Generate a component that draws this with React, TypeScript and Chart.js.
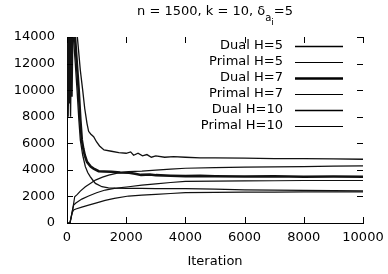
import { useEffect, useRef } from "react";
import { Chart, registerables } from "chart.js";

Chart.register(...registerables);

const titleMain = "n = 1500, k = 10, δ";
const titleSub = "a";
const titleSubSub = "i";
const titleTail = "=5";
const xAxisTitle = "Iteration";

const xTicks = [0, 2000, 4000, 6000, 8000, 10000];
const yTicks = [0, 2000, 4000, 6000, 8000, 10000, 12000, 14000];

const seriesLabels = ["Dual H=5", "Primal H=5", "Dual H=7", "Primal H=7", "Dual H=10", "Primal H=10"];
const seriesWidths = [1.3, 1.2, 2.6, 1.2, 1.3, 1.2];

const dualH5Iter = [0, 350, 450, 530, 600, 675, 730, 800, 900, 1000, 1100, 1250, 1500, 1750, 2000, 2150, 2250, 2400, 2550, 2700, 2850, 3000, 3300, 3600, 4000, 4500, 5000, 6000, 7000, 8000, 9000, 10000];
const dualH5Val = [17000, 14000, 11500, 10000, 8600, 7500, 6900, 6700, 6500, 6100, 5800, 5500, 5400, 5300, 5250, 5350, 5100, 5250, 5050, 5150, 4950, 5050, 4950, 5000, 4950, 4900, 4900, 4880, 4850, 4850, 4820, 4800];

const primalH5Iter = [0, 100, 180, 220, 260, 350, 450, 620, 800, 960, 1200, 1410, 1700, 2080, 2530, 3000, 3500, 4000, 5000, 6000, 7000, 8000, 9000, 10000];
const primalH5Val = [0, 0, 900, 1400, 1980, 2150, 2400, 2730, 3000, 3230, 3450, 3600, 3750, 3860, 3900, 3980, 4050, 4120, 4170, 4200, 4230, 4250, 4280, 4300];

const dualH7Iter = [0, 30, 60, 90, 120, 150, 180, 270, 395, 450, 500, 550, 600, 675, 800, 900, 1070, 1250, 1500, 1800, 2100, 2300, 2500, 2800, 3000, 3500, 4000, 4500, 5000, 6000, 7000, 8000, 9000, 10000];
const dualH7Val = [15000, 9000, 15000, 9000, 15000, 9500, 15000, 14000, 10000, 7800, 6250, 5600, 5100, 4600, 4250, 4100, 3900, 3880, 3860, 3800, 3780, 3700, 3620, 3650, 3600, 3560, 3530, 3550, 3520, 3500, 3520, 3480, 3500, 3480];

const primalH7Iter = [0, 100, 180, 225, 300, 500, 730, 1000, 1290, 1600, 2080, 2530, 3000, 3500, 4000, 5000, 6000, 7000, 8000, 9000, 10000];
const primalH7Val = [0, 0, 900, 1350, 1500, 1800, 2030, 2280, 2480, 2600, 2730, 2850, 2950, 3050, 3130, 3150, 3170, 3180, 3200, 3200, 3200];

const dualH10Iter = [0, 40, 80, 120, 160, 215, 280, 340, 400, 450, 530, 620, 700, 790, 880, 960, 1180, 1400, 1630, 2000, 2500, 3000, 4000, 5000, 6000, 7000, 8000, 9000, 10000];
const dualH10Val = [15000, 8000, 15000, 8000, 15000, 14000, 12000, 10000, 7800, 6250, 5100, 4240, 3800, 3480, 3200, 2980, 2730, 2650, 2620, 2610, 2600, 2590, 2580, 2550, 2500, 2480, 2450, 2440, 2420];

const primalH10Iter = [0, 100, 180, 225, 300, 500, 730, 1000, 1290, 1600, 2080, 2530, 3000, 3500, 4000, 5000, 6000, 7000, 8000, 9000, 10000];
const primalH10Val = [0, 0, 800, 980, 1050, 1200, 1350, 1520, 1700, 1850, 2030, 2100, 2150, 2220, 2280, 2300, 2320, 2330, 2340, 2350, 2350];

const seriesIters = [dualH5Iter, primalH5Iter, dualH7Iter, primalH7Iter, dualH10Iter, primalH10Iter];
const seriesVals = [dualH5Val, primalH5Val, dualH7Val, primalH7Val, dualH10Val, primalH10Val];

const FONT = '"DejaVu Sans", sans-serif';

const decorPlugin = {
  id: "decor",
  afterDraw(chart: any) {
    const ctx = chart.ctx as CanvasRenderingContext2D;
    const { left, right, top, bottom } = chart.chartArea;
    const xs = chart.scales.x;
    const ys = chart.scales.y;
    ctx.save();
    ctx.strokeStyle = "#000";
    ctx.lineWidth = 1;
    ctx.beginPath();
    const tl = 6;
    xTicks.forEach((v) => {
      const px = Math.round(xs.getPixelForValue(v)) + 0.5;
      ctx.moveTo(px, bottom);
      ctx.lineTo(px, bottom - tl);
      ctx.moveTo(px, top);
      ctx.lineTo(px, top + tl);
    });
    yTicks.forEach((v) => {
      const py = Math.round(ys.getPixelForValue(v)) + 0.5;
      ctx.moveTo(left, py);
      ctx.lineTo(left + tl, py);
      ctx.moveTo(right, py);
      ctx.lineTo(right - tl, py);
    });
    ctx.stroke();

    // legend
    ctx.font = `13px ${FONT}`;
    ctx.fillStyle = "#000";
    ctx.textAlign = "right";
    ctx.textBaseline = "middle";
    chart.data.datasets.forEach((ds: any, i: number) => {
      const y = top + 9 + i * 16;
      ctx.fillText(ds.label, right - 80, y);
      ctx.lineWidth = ds.borderWidth;
      ctx.beginPath();
      ctx.moveTo(right - 68, y + 0.5);
      ctx.lineTo(right - 20, y + 0.5);
      ctx.stroke();
    });

    // title with nested subscripts
    const fMain = `13px ${FONT}`;
    const fSub = `10px ${FONT}`;
    const fSubSub = `9px ${FONT}`;
    ctx.textAlign = "left";
    ctx.textBaseline = "alphabetic";
    ctx.font = fMain;
    const w1 = ctx.measureText(titleMain).width;
    const w4 = ctx.measureText(titleTail).width;
    ctx.font = fSub;
    const w2 = ctx.measureText(titleSub).width;
    ctx.font = fSubSub;
    const w3 = ctx.measureText(titleSubSub).width;
    const total = w1 + w2 + w3 + w4;
    let x = (left + right) / 2 - total / 2;
    const base = 15;
    ctx.font = fMain;
    ctx.fillText(titleMain, x, base);
    x += w1;
    ctx.font = fSub;
    ctx.fillText(titleSub, x, base + 6);
    x += w2;
    ctx.font = fSubSub;
    ctx.fillText(titleSubSub, x, base + 10);
    x += w3;
    ctx.font = fMain;
    ctx.fillText(titleTail, x, base);
    ctx.restore();
  },
};

export default function App() {
  const ref = useRef<HTMLCanvasElement | null>(null);
  useEffect(() => {
    if (!ref.current) return;
    Chart.defaults.font.family = FONT;
    Chart.defaults.font.size = 13;
    Chart.defaults.color = "#000";
    const datasets = seriesLabels.map((label, i) => ({
      label,
      data: seriesIters[i].map((x, j) => ({ x, y: seriesVals[i][j] })),
      borderColor: "#111",
      backgroundColor: "#111",
      borderWidth: seriesWidths[i],
      pointRadius: 0,
      tension: 0,
      fill: false,
    }));
    const chart = new Chart(ref.current, {
      type: "line",
      data: { datasets },
      plugins: [decorPlugin],
      options: {
        animation: false,
        responsive: false,
        devicePixelRatio: 1,
        layout: { padding: { top: 37, right: 25, left: 0, bottom: 0 } },
        plugins: { legend: { display: false }, title: { display: false }, tooltip: { enabled: false } },
        scales: {
          x: {
            type: "linear",
            min: 0,
            max: 10000,
            afterFit: (s: any) => {
              s.height = 51;
              s.paddingRight = 0;
              s.paddingLeft = 0;
            },
            afterBuildTicks: (s: any) => {
              s.ticks = xTicks.map((v) => ({ value: v }));
            },
            ticks: { padding: 7, maxRotation: 0, autoSkip: false, font: { size: 13 }, callback: (v: any) => String(v) },
            grid: { display: false, drawTicks: false },
            border: { display: true, color: "#000", width: 1 },
            title: { display: true, text: xAxisTitle, font: { size: 13 }, padding: { top: 0, bottom: 5 } },
          },
          y: {
            type: "linear",
            min: 0,
            max: 14000,
            afterFit: (s: any) => {
              s.width = 67;
              s.paddingTop = 0;
              s.paddingBottom = 0;
            },
            afterBuildTicks: (s: any) => {
              s.ticks = yTicks.map((v) => ({ value: v }));
            },
            ticks: { padding: 12, autoSkip: false, font: { size: 13 }, callback: (v: any) => String(v) },
            grid: { display: false, drawTicks: false },
            border: { display: true, color: "#000", width: 1 },
          },
        },
      },
    });
    return () => chart.destroy();
  }, []);
  return (
    <div style={{ position: "fixed", left: 0, top: 0, width: 388, height: 274, background: "#fff" }}>
      <canvas ref={ref} width={388} height={274} style={{ display: "block", width: 388, height: 274 }} />
    </div>
  );
}
